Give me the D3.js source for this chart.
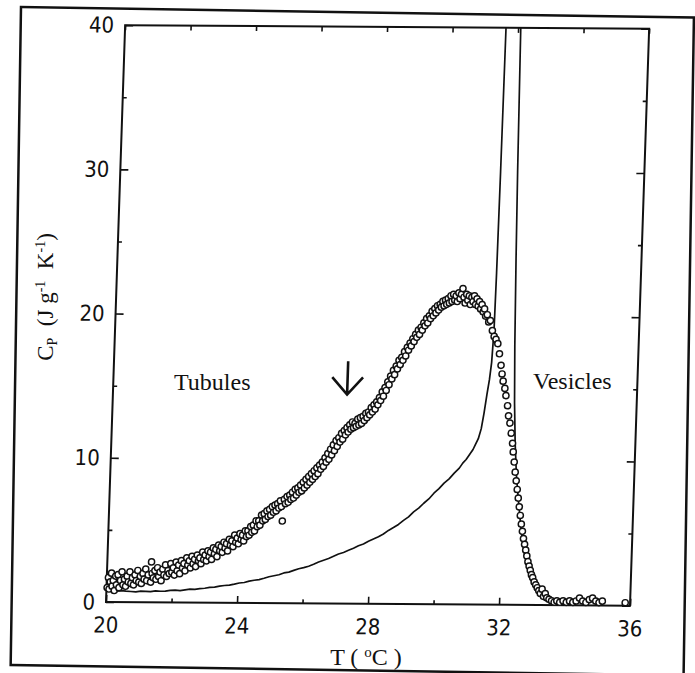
<!DOCTYPE html>
<html>
<head>
<meta charset="utf-8">
<script src="https://cdn.jsdelivr.net/npm/d3@7"></script>
<style>
  body { margin: 0; background: #fff; }
  .tick text { font-family: "Liberation Sans Narrow", "DejaVu Sans Condensed", sans-serif; font-stretch: condensed; font-size: 22px; fill: #111; }
  .tick line { stroke: #111; stroke-width: 1.6px; }
  .serif { font-family: "Liberation Serif", "Times New Roman", serif; fill: #111; }
</style>
</head>
<body>
<svg id="chart" width="695" height="673"></svg>
<script>
const xTicks = [20, 24, 28, 32, 36];
const xMinorTicks = [22, 26, 30, 34];
const yTicks = [0, 10, 20, 30, 40];
const yMinorTicks = [5, 15, 25, 35];

// measured Cp points (open circles), [T, Cp]
const scanPoints = [
  [20.02,1.0],[20.05,1.7],[20.08,0.9],[20.11,1.4],[20.14,2.0],[20.17,1.1],[20.20,1.5],[20.24,0.8],[20.27,1.8],[20.30,1.2],
  [20.34,1.9],[20.38,1.0],[20.42,1.5],[20.46,2.1],[20.50,1.2],[20.54,1.6],[20.58,1.1],[20.62,1.8],[20.66,1.4],[20.70,2.1],
  [20.74,1.3],[20.78,1.7],[20.82,1.2],[20.86,1.9],[20.90,1.5],[20.94,2.2],[20.98,1.4],[21.02,1.8],[21.06,1.3],[21.10,2.0],
  [21.14,1.6],[21.18,2.3],[21.22,1.5],[21.26,1.9],[21.35,2.8],[21.34,1.4],[21.38,2.0],[21.42,1.7],[21.46,2.2],[21.50,1.6],
  [21.54,2.4],[21.58,1.8],[21.62,2.1],[21.66,1.5],[21.70,2.3],[21.74,1.9],[21.78,2.6],[21.82,1.8],[21.86,2.2],[21.90,2.0],
  [21.94,2.7],[21.98,2.1],[22.02,2.4],[22.06,1.9],[22.10,2.8],[22.14,2.2],[22.18,2.6],[22.22,2.0],[22.26,2.9],[22.30,2.4],
  [22.34,2.7],[22.38,2.2],[22.42,3.1],[22.46,2.6],[22.50,2.9],[22.54,2.4],[22.58,3.2],[22.62,2.7],[22.66,3.0],[22.70,2.5],
  [22.74,3.3],[22.78,2.9],[22.82,3.1],[22.86,2.7],[22.90,3.5],[22.94,3.0],[22.98,3.3],[23.02,2.9],[23.06,3.6],[23.10,3.2],
  [23.14,3.5],[23.18,3.0],[23.22,3.8],[23.26,3.4],[23.30,3.7],[23.34,3.2],[23.38,4.0],[23.42,3.6],[23.46,3.9],[23.50,3.5],
  [23.54,4.2],[23.58,3.8],[23.62,4.1],[23.66,3.6],[23.70,4.4],[23.74,4.0],[23.78,4.3],[23.82,3.9],[23.86,4.7],[23.90,4.2],
  [23.94,4.5],[23.98,4.1],[24.02,4.8],[24.06,4.4],[24.10,4.7],[24.14,4.3],[24.18,5.0],[24.22,4.6],[24.26,5.0],[24.30,4.7],
  [24.34,5.3],[24.38,4.9],[24.42,5.4],[24.46,5.0],[24.50,5.7],[24.54,5.3],[24.58,5.7],[24.62,5.4],[24.66,6.1],[24.70,5.7],
  [24.74,6.2],[24.78,5.8],[24.82,6.4],[24.86,6.0],[24.90,6.5],[24.94,6.1],[24.98,6.7],[25.02,6.3],[25.06,6.8],[25.10,6.4],
  [25.14,6.9],[25.18,6.6],[25.22,7.1],[25.26,6.7],[25.30,5.7],[25.34,7.2],[25.38,6.9],[25.42,7.4],[25.46,7.0],[25.50,7.5],
  [25.54,7.2],[25.58,7.7],[25.62,7.3],[25.66,7.9],[25.70,7.5],[25.74,8.0],[25.78,7.7],[25.82,8.2],[25.86,7.8],[25.90,8.4],
  [25.94,8.0],[25.98,8.6],[26.02,8.2],[26.06,8.8],[26.10,8.4],[26.14,9.0],[26.18,8.6],[26.22,9.2],[26.26,8.8],[26.30,9.4],
  [26.34,9.0],[26.38,9.6],[26.42,9.3],[26.46,9.8],[26.50,9.5],[26.54,10.1],[26.58,9.8],[26.62,10.4],[26.66,10.0],[26.70,10.7],
  [26.74,10.3],[26.78,11.0],[26.82,10.6],[26.86,11.3],[26.90,10.9],[26.94,11.5],[26.98,11.2],[27.02,11.8],[27.06,11.4],[27.10,12.0],
  [27.14,11.7],[27.18,12.2],[27.22,11.9],[27.26,12.4],[27.30,12.1],[27.34,12.6],[27.38,12.2],[27.42,12.5],[27.46,12.3],[27.50,12.8],
  [27.54,12.4],[27.58,12.9],[27.62,12.5],[27.66,13.0],[27.70,12.7],[27.74,13.2],[27.78,12.9],[27.82,13.3],[27.86,13.1],[27.90,13.6],
  [27.94,13.3],[27.98,13.8],[28.02,13.5],[28.06,14.0],[28.10,13.8],[28.14,14.3],[28.18,14.1],[28.22,14.7],[28.26,14.4],[28.30,15.0],
  [28.34,14.8],[28.38,15.4],[28.42,15.2],[28.46,15.8],[28.50,15.6],[28.54,16.2],[28.58,15.9],[28.62,16.5],[28.66,16.3],[28.70,16.9],
  [28.74,16.6],[28.78,17.1],[28.82,16.9],[28.86,17.5],[28.90,17.2],[28.94,17.8],[28.98,17.6],[29.02,18.1],[29.06,17.9],[29.10,18.4],
  [29.14,18.2],[29.18,18.7],[29.22,18.5],[29.26,19.0],[29.30,18.7],[29.34,19.2],[29.38,19.0],[29.42,19.5],[29.46,19.3],[29.50,19.8],
  [29.54,19.5],[29.58,20.0],[29.62,19.8],[29.66,20.3],[29.70,20.0],[29.74,20.5],[29.78,20.2],[29.82,20.7],[29.86,20.4],[29.90,20.8],
  [29.94,20.6],[29.98,21.0],[30.02,20.7],[30.06,21.1],[30.10,20.8],[30.14,21.2],[30.18,20.9],[30.22,21.4],[30.26,21.0],[30.30,21.5],
  [30.34,21.1],[30.38,21.4],[30.42,21.0],[30.46,21.6],[30.50,21.2],[30.54,21.5],[30.58,21.9],[30.62,21.3],[30.66,20.9],[30.70,21.5],
  [30.74,21.1],[30.78,21.4],[30.82,20.8],[30.86,21.3],[30.90,21.0],[30.94,21.4],[30.98,20.8],[31.02,21.2],[31.06,20.7],[31.10,21.0],
  [31.14,20.5],[31.18,20.8],[31.22,20.3],[31.26,20.5],[31.30,20.0],[31.35,20.1],[31.40,19.6],[31.45,19.7],[31.52,19.0],[31.58,18.6],
  [31.64,18.4],[31.70,18.1],[31.76,17.4],[31.82,16.6],[31.86,16.0],[31.90,15.5],[31.96,15.0],[32.00,14.5],[32.06,13.8],[32.10,13.1],
  [32.15,12.6],[32.20,11.9],[32.25,11.2],[32.28,10.6],[32.32,9.9],[32.36,9.2],[32.40,8.6],[32.44,8.0],[32.48,7.4],[32.52,6.8],
  [32.56,6.2],[32.60,5.6],[32.64,5.1],[32.68,4.6],[32.72,4.2],[32.76,3.8],[32.80,3.4],[32.84,3.0],[32.88,2.7],[32.92,2.4],
  [32.96,2.1],[33.00,1.9],[33.05,1.6],[33.10,1.4],[33.15,1.2],[33.20,1.0],[33.25,0.8],[33.30,1.1],[33.35,0.6],[33.40,0.8],
  [33.45,0.5],[33.52,0.4],[33.60,0.3],[33.68,0.2],[33.76,0.3],[33.85,0.2],[33.95,0.3],[34.05,0.2],[34.15,0.3],[34.25,0.2],
  [34.35,0.3],[34.45,0.5],[34.55,0.3],[34.65,0.2],[34.75,0.4],[34.85,0.5],[34.95,0.3],[35.05,0.2],[35.15,0.3],[35.85,0.2]
];

// sharp transition curve (thin line), [T, Cp]
const peakCurve = [
  [20.0,0.80],[20.15,0.78],[20.3,0.75],[20.45,0.79],[20.6,0.76],[20.75,0.74],[20.9,0.72],[21.05,0.77],[21.2,0.76],[21.35,0.74],
  [21.5,0.80],[21.65,0.77],[21.8,0.78],[21.95,0.84],[22.1,0.85],[22.25,0.83],[22.4,0.88],[22.55,0.93],[22.7,0.92],[22.85,0.97],
  [23.0,1.00],[23.15,1.06],[23.3,1.08],[23.45,1.16],[23.6,1.20],[23.75,1.23],[23.9,1.30],[24.05,1.38],[24.2,1.42],[24.35,1.52],
  [24.5,1.58],[24.65,1.63],[24.8,1.72],[24.95,1.83],[25.1,1.90],[25.25,1.97],[25.4,2.10],[25.55,2.16],[25.7,2.28],[25.85,2.40],
  [26.0,2.48],[26.15,2.58],[26.3,2.72],[26.45,2.88],[26.6,3.00],[26.75,3.12],[26.9,3.28],[27.05,3.44],[27.2,3.55],[27.35,3.70],
  [27.5,3.85],[27.65,4.02],[27.8,4.15],[27.95,4.34],[28.1,4.50],[28.25,4.66],[28.4,4.85],[28.55,5.10],[28.7,5.30],[28.85,5.52],
  [29.0,5.80],[29.15,6.05],[29.3,6.40],[29.45,6.66],[29.6,7.00],[29.75,7.30],[29.9,7.70],[30.05,8.02],[30.2,8.40],[30.35,8.70],
  [30.5,9.10],[30.65,9.45],[30.75,9.80],[30.85,10.05],[30.95,10.40],[31.05,10.75],[31.12,11.1],[31.2,11.5],[31.28,12.2],[31.35,13.3],
  [31.42,14.6],[31.48,15.6],[31.53,16.8],[31.57,19.0],[31.59,23.0],[31.61,30.0],[31.63,40.0],[31.66,48.0],[31.85,70.0],[32.04,48.0],
  [32.08,40.0],[32.13,30.0],[32.17,24.0],[32.22,18.0],[32.27,14.0],[32.33,11.2],[32.40,9.0],[32.50,7.0],[32.60,5.2],[32.70,3.8],
  [32.80,2.8],[32.90,2.0],[33.00,1.5],[33.15,1.0],[33.30,0.6],[33.45,0.35],[33.60,0.15],[33.80,0.05],[34.0,0.0]
];

const arrowT = 27.15;
const arrowTop = 16.8;
const arrowTip = 14.5;

const originX = 106, originY = 602;
const plotW = 524, plotH = 577;

let svg = d3.select('#chart');

// outer frame of the scanned page
svg.append('rect')
  .attr('x', 21).attr('y', 7).attr('width', 673).attr('height', 658)
  .attr('transform', 'rotate(0.9,21,7)')
  .attr('fill', 'none').attr('stroke', '#111').attr('stroke-width', 2.5);

let x = d3.scaleLinear().domain([20, 36]).range([0, plotW]);
let y = d3.scaleLinear().domain([0, 40]).range([0, -plotH]);

// the scanned plot is slightly sheared
let g = svg.append('g')
  .attr('transform', `translate(${originX},${originY}) skewY(0.4) skewX(-1.9)`);

g.append('clipPath').attr('id', 'plot-clip')
  .append('rect').attr('x', 0).attr('y', -plotH).attr('width', plotW).attr('height', plotH);

function noDomain(sel) {
  sel.select('.domain').remove();
}

g.append('g')
  .call(d3.axisBottom(x).tickValues(xTicks).tickSize(-7).tickPadding(15).tickFormat(d3.format('d')))
  .call(noDomain);
g.append('g')
  .call(d3.axisBottom(x).tickValues(xMinorTicks).tickSize(-4).tickFormat(''))
  .call(noDomain);
g.append('g').attr('transform', `translate(0,${-plotH})`)
  .call(d3.axisTop(x).tickValues(xTicks.concat(xMinorTicks)).tickSize(-5).tickFormat(''))
  .call(noDomain);

g.append('g')
  .call(d3.axisLeft(y).tickValues(yTicks).tickSize(-8).tickPadding(11).tickFormat(d3.format('d')))
  .call(noDomain);
g.append('g')
  .call(d3.axisLeft(y).tickValues(yMinorTicks).tickSize(-4).tickFormat(''))
  .call(noDomain);
g.append('g').attr('transform', `translate(${plotW},0)`)
  .call(d3.axisRight(y).tickValues(yTicks).tickSize(-8).tickFormat(''))
  .call(noDomain);
g.append('g').attr('transform', `translate(${plotW},0)`)
  .call(d3.axisRight(y).tickValues(yMinorTicks).tickSize(-4).tickFormat(''))
  .call(noDomain);

g.append('rect')
  .attr('x', 0).attr('y', -plotH).attr('width', plotW).attr('height', plotH)
  .attr('fill', 'none').attr('stroke', '#111').attr('stroke-width', 2);

let line = d3.line().x(d => x(d[0])).y(d => y(d[1]));

g.append('path')
  .datum(peakCurve)
  .attr('clip-path', 'url(#plot-clip)')
  .attr('d', line)
  .attr('fill', 'none').attr('stroke', '#111').attr('stroke-width', 1.7)
  .attr('stroke-linejoin', 'round');

g.append('g').selectAll('circle')
  .data(scanPoints)
  .join('circle')
  .attr('cx', d => x(d[0]))
  .attr('cy', d => y(d[1]))
  .attr('r', 3.1)
  .attr('fill', '#fff').attr('stroke', '#111').attr('stroke-width', 1.45);

// arrow marking the shoulder
let wing = 0.47;
g.append('path')
  .attr('d', `M${x(arrowT)},${y(arrowTop)}L${x(arrowT)},${y(arrowTip)}` +
    `M${x(arrowT - wing)},${y(15.7)}L${x(arrowT)},${y(arrowTip)}L${x(arrowT + wing)},${y(15.7)}`)
  .attr('fill', 'none').attr('stroke', '#111').attr('stroke-width', 2.6);

svg.append('text').attr('class', 'serif')
  .attr('x', 174).attr('y', 390).attr('font-size', 24).text('Tubules');
svg.append('text').attr('class', 'serif')
  .attr('x', 533).attr('y', 389).attr('font-size', 24).text('Vesicles');

let xTitle = svg.append('text').attr('class', 'serif')
  .attr('x', 366).attr('y', 665).attr('font-size', 24).attr('text-anchor', 'middle');
xTitle.append('tspan').text('T ( ');
xTitle.append('tspan').attr('font-size', 15).attr('dy', -8).text('o');
xTitle.append('tspan').attr('dy', 8).text('C )');

let yTitle = svg.append('text').attr('class', 'serif')
  .attr('transform', 'translate(53,297) rotate(-90)')
  .attr('font-size', 23).attr('text-anchor', 'middle')
  .style('white-space', 'pre');
yTitle.append('tspan').text('C');
yTitle.append('tspan').attr('font-size', 14).attr('dy', 4).text('P');
yTitle.append('tspan').attr('dy', -4).text('  (J g');
yTitle.append('tspan').attr('font-size', 14).attr('dy', -8).text('-1');
yTitle.append('tspan').attr('dy', 8).text('  K');
yTitle.append('tspan').attr('font-size', 14).attr('dy', -8).text('-1');
yTitle.append('tspan').attr('dy', 8).text(')');
</script>
</body>
</html>
